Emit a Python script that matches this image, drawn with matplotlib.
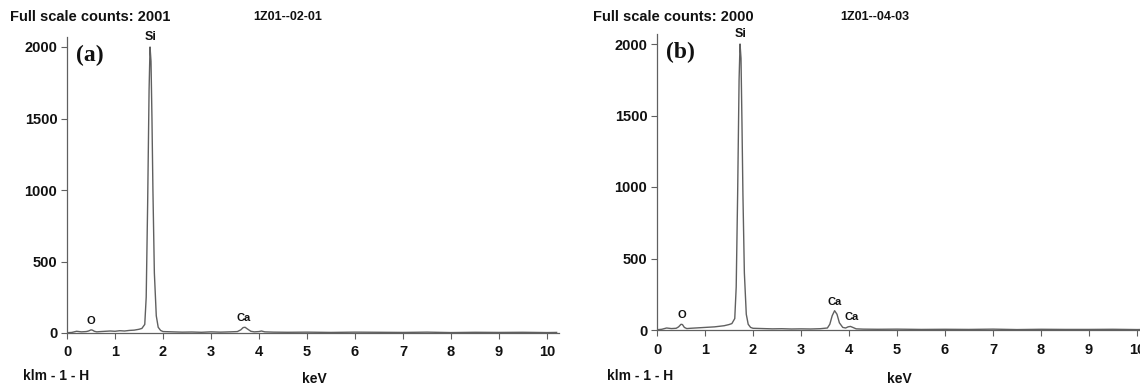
import matplotlib.pyplot as plt

plt.rcParams['font.family'] = ['Liberation Sans', 'DejaVu Sans']
plt.rcParams['font.weight'] = 'bold'

# spectrum (a) : energy keV / counts
kev_a = [0.0, 0.1, 0.2, 0.3, 0.4, 0.45, 0.5, 0.53, 0.57, 0.62, 0.7, 0.8, 0.9, 1.0,
         1.1, 1.2, 1.3, 1.4, 1.5, 1.56, 1.62, 1.65, 1.68, 1.71, 1.73, 1.75, 1.77,
         1.79, 1.82, 1.86, 1.9, 1.95, 2.0, 2.2, 2.4, 2.6, 2.8, 3.0, 3.2, 3.4, 3.55,
         3.62, 3.67, 3.71, 3.76, 3.83, 3.9, 4.0, 4.05, 4.12, 4.3, 4.6, 5.0, 5.5,
         6.0, 6.5, 7.0, 7.5, 8.0, 8.5, 9.0, 9.5, 10.0, 10.2]
cnt_a = [2, 4, 12, 8, 10, 14, 22, 20, 12, 8, 10, 12, 14, 12,
         16, 14, 18, 20, 26, 32, 60, 250, 900, 1700, 2000, 1900, 1500,
         1000, 420, 120, 40, 18, 10, 8, 6, 7, 5, 8, 6, 8, 10,
         22, 38, 40, 28, 12, 8, 10, 14, 8, 6, 5, 6, 4,
         6, 5, 4, 6, 3, 5, 4, 5, 3, 4]

# spectrum (b)
kev_b = [0.0, 0.1, 0.2, 0.3, 0.4, 0.45, 0.5, 0.53, 0.57, 0.62, 0.7, 0.8, 0.9, 1.0,
         1.1, 1.2, 1.3, 1.4, 1.5, 1.56, 1.62, 1.65, 1.68, 1.71, 1.73, 1.75, 1.77,
         1.79, 1.82, 1.86, 1.9, 1.95, 2.0, 2.2, 2.4, 2.6, 2.8, 3.0, 3.2, 3.4, 3.55,
         3.6, 3.65, 3.7, 3.75, 3.8, 3.87, 3.93, 3.98, 4.03, 4.08, 4.15, 4.3, 4.6,
         5.0, 5.5, 6.0, 6.5, 7.0, 7.5, 8.0, 8.5, 9.0, 9.5, 10.0, 10.2]
cnt_b = [2, 5, 14, 10, 12, 22, 40, 38, 18, 10, 12, 14, 16, 18,
         20, 22, 26, 30, 38, 45, 80, 300, 950, 1750, 2000, 1900, 1450,
         950, 400, 110, 40, 18, 12, 10, 8, 9, 7, 8, 7, 9, 14,
         40, 100, 135, 110, 50, 18, 14, 22, 25, 18, 8, 6, 5,
         6, 4, 5, 4, 6, 3, 5, 4, 4, 5, 3, 4]

yticks = [0, 500, 1000, 1500, 2000]
xticks = [0, 1, 2, 3, 4, 5, 6, 7, 8, 9, 10]

panels = [
    dict(kev=kev_a, cnt=cnt_a, left=67, bottom=333, tag='(a)',
         counts='Full scale counts: 2001', sample='1Z01--02-01',
         off=(-57, 186, -44, 235),
         peaks=[('O', 0.5, 22), ('Si', 1.74, 2000), ('Ca', 3.69, 40)]),
    dict(kev=kev_b, cnt=cnt_b, left=657, bottom=330, tag='(b)',
         counts='Full scale counts: 2000', sample='1Z01--04-03',
         off=(-64, 183, -50, 230),
         peaks=[('O', 0.52, 40), ('Si', 1.74, 2000), ('Ca', 3.7, 135), ('Ca', 4.05, 25)]),
]

W, H = 1140, 387
fig = plt.figure(figsize=(11.4, 3.87), dpi=100)
line_col = '#606060'
txt_col = '#111111'

for p in panels:
    px_per_kev = 48.0
    px_per_cnt = 286.0 / 2000
    w = 10.25 * px_per_kev
    h = 2070 * px_per_cnt
    ax = fig.add_axes([p['left'] / W, 1 - p['bottom'] / H, w / W, h / H])
    ax.plot(p['kev'], p['cnt'], color=line_col, lw=1.0)
    ax.set_xlim(0, 10.25)
    ax.set_ylim(0, 2070)
    for s in ['top', 'right']:
        ax.spines[s].set_visible(False)
    ax.spines['left'].set_color(line_col)
    ax.spines['bottom'].set_color(line_col)
    ax.spines['left'].set_linewidth(0.9)
    ax.spines['bottom'].set_linewidth(0.9)
    ax.set_xticks(xticks)
    ax.set_yticks(yticks)
    ax.tick_params(axis='both', colors=line_col, labelcolor=txt_col,
                   labelsize=10.5, length=4, width=0.8)
    ax.tick_params(axis='x', pad=5)
    ax.tick_params(axis='y', pad=3)
    for lab in ax.get_xticklabels() + ax.get_yticklabels():
        lab.set_fontweight('bold')
    for name, x, y in p['peaks']:
        fs = 9 if name == 'Si' else 8
        ax.annotate(name, (x, y), xytext=(0, 3), textcoords='offset points',
                    ha='center', va='bottom', fontsize=fs, color=txt_col)
    ax.text(0.018, 0.975, p['tag'], transform=ax.transAxes, ha='left', va='top',
            fontsize=17, family='Liberation Serif', fontweight='bold', color=txt_col)
    x0 = p['left'] / W
    o = p['off']
    fig.text(x0 + o[0] / W, 1 - 17 / H, p['counts'], ha='left', va='center',
             fontsize=10.5, color=txt_col)
    fig.text(x0 + o[1] / W, 1 - 17 / H, p['sample'], ha='left', va='center',
             fontsize=9, color=txt_col)
    fig.text(x0 + o[2] / W, 1 - 376 / H, 'klm - 1 - H', ha='left', va='center',
             fontsize=10, color=txt_col)
    fig.text(x0 + o[3] / W, 1 - 379 / H, 'keV', ha='left', va='center',
             fontsize=10, color=txt_col)

fig.savefig('out.png', dpi=100)
